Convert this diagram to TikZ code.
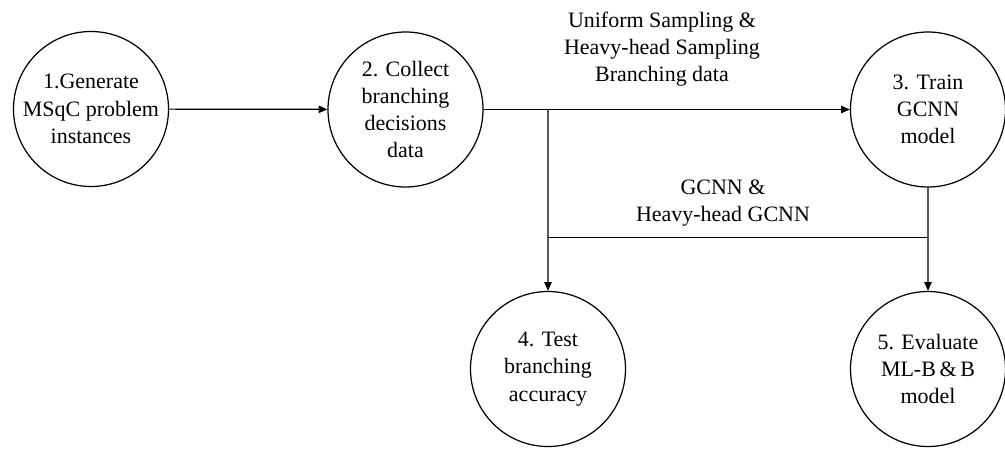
\documentclass[tikz,border=0pt]{standalone}
\usepackage{fontspec}
\setmainfont{Liberation Serif}
\usetikzlibrary{arrows.meta}

\begin{document}
\begin{tikzpicture}[scale=0.2]
            \tikzstyle{every node}+=[inner sep=0pt]
            \tikzstyle{stage}=[draw, circle, line width=0.7pt, minimum size=3.1cm, align=center, font=\fontsize{12.5}{15.5}\selectfont]
            \tikzstyle{flow}=[line width=0.7pt, -{Triangle[length=5pt,width=4.2pt]}]
            \tikzstyle{note}=[align=center, font=\fontsize{12.5}{15.5}\selectfont]
            \useasboundingbox (0,0) rectangle (100.5,-44.8);
            % stages
            \node [stage] (gen) at (9.1,-10.9) {1.Generate\\MSqC problem\\instances};
            \node [stage] (collect) at (40.55,-10.95) {2. Collect\\branching\\decisions\\data};
            \node [stage] (train) at (92.8,-10.95) {3. Train\\GCNN\\model};
            \node [stage] (test) at (54.8,-36.9) {4. Test\\branching\\accuracy};
            \node [stage] (evaluate) at (92.8,-36.9) {5. Evaluate\\ML-B\,\&\,B\\model};
            % connectors
            \coordinate (split) at (test |- collect);
            \coordinate (jl) at (54.8,-23.7);
            \coordinate (jr) at (92.8,-23.7);
            \draw [flow] (gen) -- (collect);
            \draw [flow] (collect) -- (train);
            \draw [flow] (split) -- (test);
            \draw [flow] (train) -- (evaluate);
            \draw [line width=0.5pt] (jl) -- (jr);
            % labels
            \node [note] (sampling) at (66.2,-4.9) {Uniform Sampling \&\\Heavy-head Sampling\\Branching data};
            \node [note] (models) at (72.3,-20.3) {GCNN \&\\Heavy-head GCNN};
        \end{tikzpicture}
\end{document}
